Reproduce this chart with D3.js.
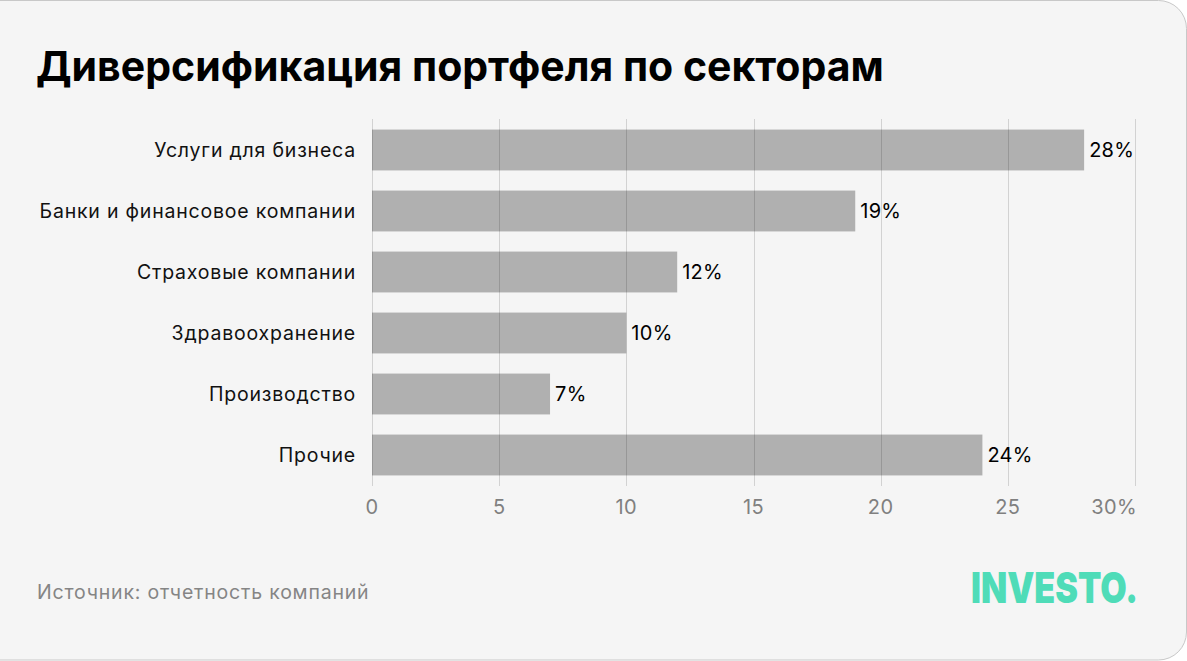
<!DOCTYPE html>
<html>
<head>
<meta charset="utf-8">
<script src="https://cdn.jsdelivr.net/npm/d3@7"></script>
<style>
  body { margin: 0; background: #fff; }
  svg { display: block; font-family: Inter, Roboto, sans-serif; }
</style>
</head>
<body>
<div id="chart"></div>
<script>
var categories = ["Услуги для бизнеса", "Банки и финансовое компании", "Страховые компании",
                  "Здравоохранение", "Производство", "Прочие"];
var values = [28, 19, 12, 10, 7, 24];
var ticks = [0, 5, 10, 15, 20, 25, 30];

var width = 1187, height = 661;

var svg = d3.select("#chart").append("svg")
    .attr("width", width)
    .attr("height", height);

// card
svg.append("rect")
    .attr("x", -40).attr("y", 0.5)
    .attr("width", width - 0.5 + 40).attr("height", height - 1.5)
    .attr("rx", 28)
    .attr("fill", "#f5f5f5")
    .attr("stroke", "#c8c8c8");

svg.append("text")
    .attr("x", 36).attr("y", 81)
    .attr("font-size", 41).attr("font-weight", 700)
    .attr("fill", "#000")
    .text("Диверсификация портфеля по секторам");

var x = d3.scaleLinear().domain([0, 30]).range([372, 1135]);
var y = d3.scaleBand().domain(categories).range([119.5, 485.5])
    .paddingInner(0.33).paddingOuter(0.165);

var g = svg.append("g");

g.selectAll("rect.bar")
    .data(values)
    .enter().append("rect")
        .attr("class", "bar")
        .attr("x", x(0))
        .attr("y", (d, i) => y(categories[i]))
        .attr("width", d => x(d) - x(0))
        .attr("height", y.bandwidth())
        .attr("fill", "#b0b0b0");

// grid lines on top of bars
g.selectAll("line.grid")
    .data(ticks)
    .enter().append("line")
        .attr("class", "grid")
        .attr("x1", d => Math.round(x(d)) + 0.5)
        .attr("x2", d => Math.round(x(d)) + 0.5)
        .attr("y1", 119)
        .attr("y2", 486)
        .attr("stroke", "rgba(0,0,0,0.14)");

// axis tick labels (last one ends at its tick)
g.selectAll("text.tick")
    .data(ticks)
    .enter().append("text")
        .attr("class", "tick")
        .attr("x", d => x(d) + (d === 30 ? 2 : 0))
        .attr("y", 514)
        .attr("text-anchor", d => d === 30 ? "end" : "middle")
        .attr("font-size", 20)
        .attr("letter-spacing", 0.4)
        .attr("fill", "#808080")
        .text(d => d === 30 ? d + "%" : d);

// category labels
g.selectAll("text.cat")
    .data(categories)
    .enter().append("text")
        .attr("class", "cat")
        .attr("x", 356)
        .attr("y", d => y(d) + y.bandwidth() / 2)
        .attr("dy", "0.36em")
        .attr("text-anchor", "end")
        .attr("font-size", 19.5)
        .attr("letter-spacing", 0.8)
        .attr("fill", "#111")
        .text(d => d);

// value labels
g.selectAll("text.val")
    .data(values)
    .enter().append("text")
        .attr("class", "val")
        .attr("x", d => x(d) + 5)
        .attr("y", (d, i) => y(categories[i]) + y.bandwidth() / 2)
        .attr("dy", "0.36em")
        .attr("font-size", 20)
        .attr("letter-spacing", 0.3)
        .attr("fill", "#000")
        .text(d => d + "%");

svg.append("text")
    .attr("x", 37).attr("y", 599)
    .attr("font-size", 19.5)
    .attr("letter-spacing", 0.8)
    .attr("fill", "#858585")
    .text("Источник: отчетность компаний");

svg.append("text")
    .attr("x", 971).attr("y", 603)
    .attr("font-size", 43).attr("font-weight", 900)
    .attr("textLength", 167).attr("lengthAdjust", "spacingAndGlyphs")
    .attr("fill", "#4fdcb8")
    .text("INVESTO.");
</script>
</body>
</html>
